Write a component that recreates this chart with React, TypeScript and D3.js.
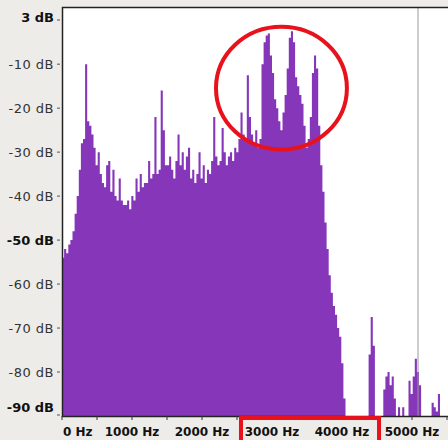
import { useEffect, useRef } from "react";
import * as d3 from "d3";

// spectrum levels (dB), one value per 30 Hz bin starting at 0 Hz
const binHz = 30;
const levels = [
  -54, -52, -53, -51, -50, -48, -44, -40, -34, -28,
  -27, -10, -23, -24, -26, -29, -33, -30, -35, -37,
  -38, -33, -32, -39, -34, -40, -41, -36, -41, -42,
  -42, -41, -43, -40, -41, -36, -39, -35, -38, -37,
  -37, -32, -36, -35, -22, -35, -34, -16, -25, -33,
  -33, -31, -34, -36, -32, -26, -33, -30, -34, -31,
  -29, -36, -34, -37, -35, -30, -36, -33, -37, -34,
  -35, -32, -22, -31, -33, -32, -24.5, -30, -33, -31,
  -30, -32, -29, -30, -27, -21, -26, -27, -12.5, -22,
  -26, -28, -25, -29, -27, -10, -5, -3.5, -3, -8,
  -12, -18, -20, -23, -25, -21, -17, -11, -4, -2.5,
  -5, -13, -15, -17, -19, -24, -29, -27, -22, -12,
  -8, -11, -24, -33, -39, -46, -52, -58, -62, -65,
  -67, -70, -72, -78, -86, -100, -100, -100, -100, -100,
  -100, -100, -100, -100, -100, -100, -76, -67.5, -74, -100,
  -100, -100, -100, -84, -81, -80, -83, -81, -86, -100,
  -88, -100, -88, -100, -100, -82, -85, -81, -77, -80,
  -83, -100, -100, -100, -100, -100, -87, -88, -89, -85,
  -100, -100, -92, -100,
];

const dbTicks = [3, -10, -20, -30, -40, -50, -60, -70, -80, -90];
const boldDb = [3, -50, -90];
const hzTicks = [0, 1000, 2000, 3000, 4000, 5000];
const minorHz = [500, 1500, 2500, 3500, 4500, 5500];
const cursorHz = 5086;

// red annotations
const circleHz = [2200, 4070];
const circleDb = [-1.5, -29.4];
const boxHz = [2557, 4529];

export default function App() {
  const svgRef = useRef(null);

  useEffect(() => {
    const svg = d3.select(svgRef.current);
    svg.selectAll("*").remove();

    const W = 448;
    const H = 440;
    const left = 62;
    const top = 7;
    const bottom = 416;

    const x = d3.scaleLinear().domain([0, 5000]).range([left, 412]);
    const y = d3.scaleLinear().domain([-90, 3]).range([bottom, top]).clamp(true);

    svg.append("rect").attr("width", W).attr("height", H).attr("fill", "#eeece9");
    svg
      .append("rect")
      .attr("x", left)
      .attr("y", top)
      .attr("width", W - left)
      .attr("height", bottom - top)
      .attr("fill", "#ffffff");

    // spectrum as a stepped area (no seams between bins)
    const pts = levels.map((d, i) => [i * binHz, d]);
    pts.push([levels.length * binHz, levels[levels.length - 1]]);
    const area = d3
      .area()
      .x((d) => x(d[0]))
      .y0(bottom)
      .y1((d) => y(d[1]))
      .curve(d3.curveStepAfter);
    svg.append("path").attr("d", area(pts)).attr("fill", "#8637b9");

    // cursor line
    svg
      .append("line")
      .attr("x1", x(cursorHz))
      .attr("x2", x(cursorHz))
      .attr("y1", top)
      .attr("y2", bottom)
      .attr("stroke", "#9a9a9a")
      .attr("stroke-width", 1);

    // frame
    svg
      .append("path")
      .attr("d", `M${W},${top + 0.5}H${left + 0.5}V${bottom + 0.5}H${W}`)
      .attr("fill", "none")
      .attr("stroke", "#222")
      .attr("stroke-width", 1.5);

    // y axis
    const yg = svg.append("g").attr("font-family", "DejaVu Sans, sans-serif");
    dbTicks.forEach((d) => {
      let ty = y(d);
      let ly = ty;
      if (d === 3) {
        ty = y(d) + 13;
        ly = y(d) + 10;
      }
      if (d === -90) {
        ly = y(d) - 9;
        ty = y(d) - 1;
      }
      yg.append("line")
        .attr("x1", 57)
        .attr("x2", 60)
        .attr("y1", ty)
        .attr("y2", ty)
        .attr("stroke", "#555");
      const bold = boldDb.includes(d);
      yg.append("text")
        .attr("x", 54)
        .attr("y", ly)
        .attr("dy", "0.35em")
        .attr("text-anchor", "end")
        .attr("font-size", 13)
        .attr("font-weight", bold ? "bold" : "normal")
        .attr("letter-spacing", bold ? 0 : 0.5)
        .attr("fill", bold ? "#111" : "#333")
        .text(`${d} dB`);
    });

    // x axis
    const xg = svg.append("g").attr("font-family", "DejaVu Sans, sans-serif");
    hzTicks.concat(minorHz).forEach((d) => {
      xg.append("line")
        .attr("x1", x(d))
        .attr("x2", x(d))
        .attr("y1", bottom)
        .attr("y2", bottom + 4)
        .attr("stroke", "#333");
    });
    hzTicks.forEach((d) => {
      xg.append("text")
        .attr("x", d === 0 ? x(d) + 1 : x(d))
        .attr("y", 436)
        .attr("text-anchor", d === 0 ? "start" : "middle")
        .attr("font-size", 12)
        .attr("font-weight", "bold")
        .attr("fill", "#111")
        .text(`${d} Hz`);
    });

    // red highlights
    const cx = (x(circleHz[0]) + x(circleHz[1])) / 2;
    const cy = (y(circleDb[0]) + y(circleDb[1])) / 2;
    svg
      .append("ellipse")
      .attr("cx", cx)
      .attr("cy", cy)
      .attr("rx", (x(circleHz[1]) - x(circleHz[0])) / 2)
      .attr("ry", (y(circleDb[1]) - y(circleDb[0])) / 2)
      .attr("fill", "none")
      .attr("stroke", "#e8121c")
      .attr("stroke-width", 4);

    svg
      .append("rect")
      .attr("x", x(boxHz[0]))
      .attr("y", bottom + 2)
      .attr("width", x(boxHz[1]) - x(boxHz[0]))
      .attr("height", 40)
      .attr("fill", "none")
      .attr("stroke", "#e8121c")
      .attr("stroke-width", 4);
  }, []);

  return (
    <svg
      ref={svgRef}
      width={448}
      height={440}
      style={{ position: "absolute", left: 0, top: 0, display: "block" }}
    />
  );
}
